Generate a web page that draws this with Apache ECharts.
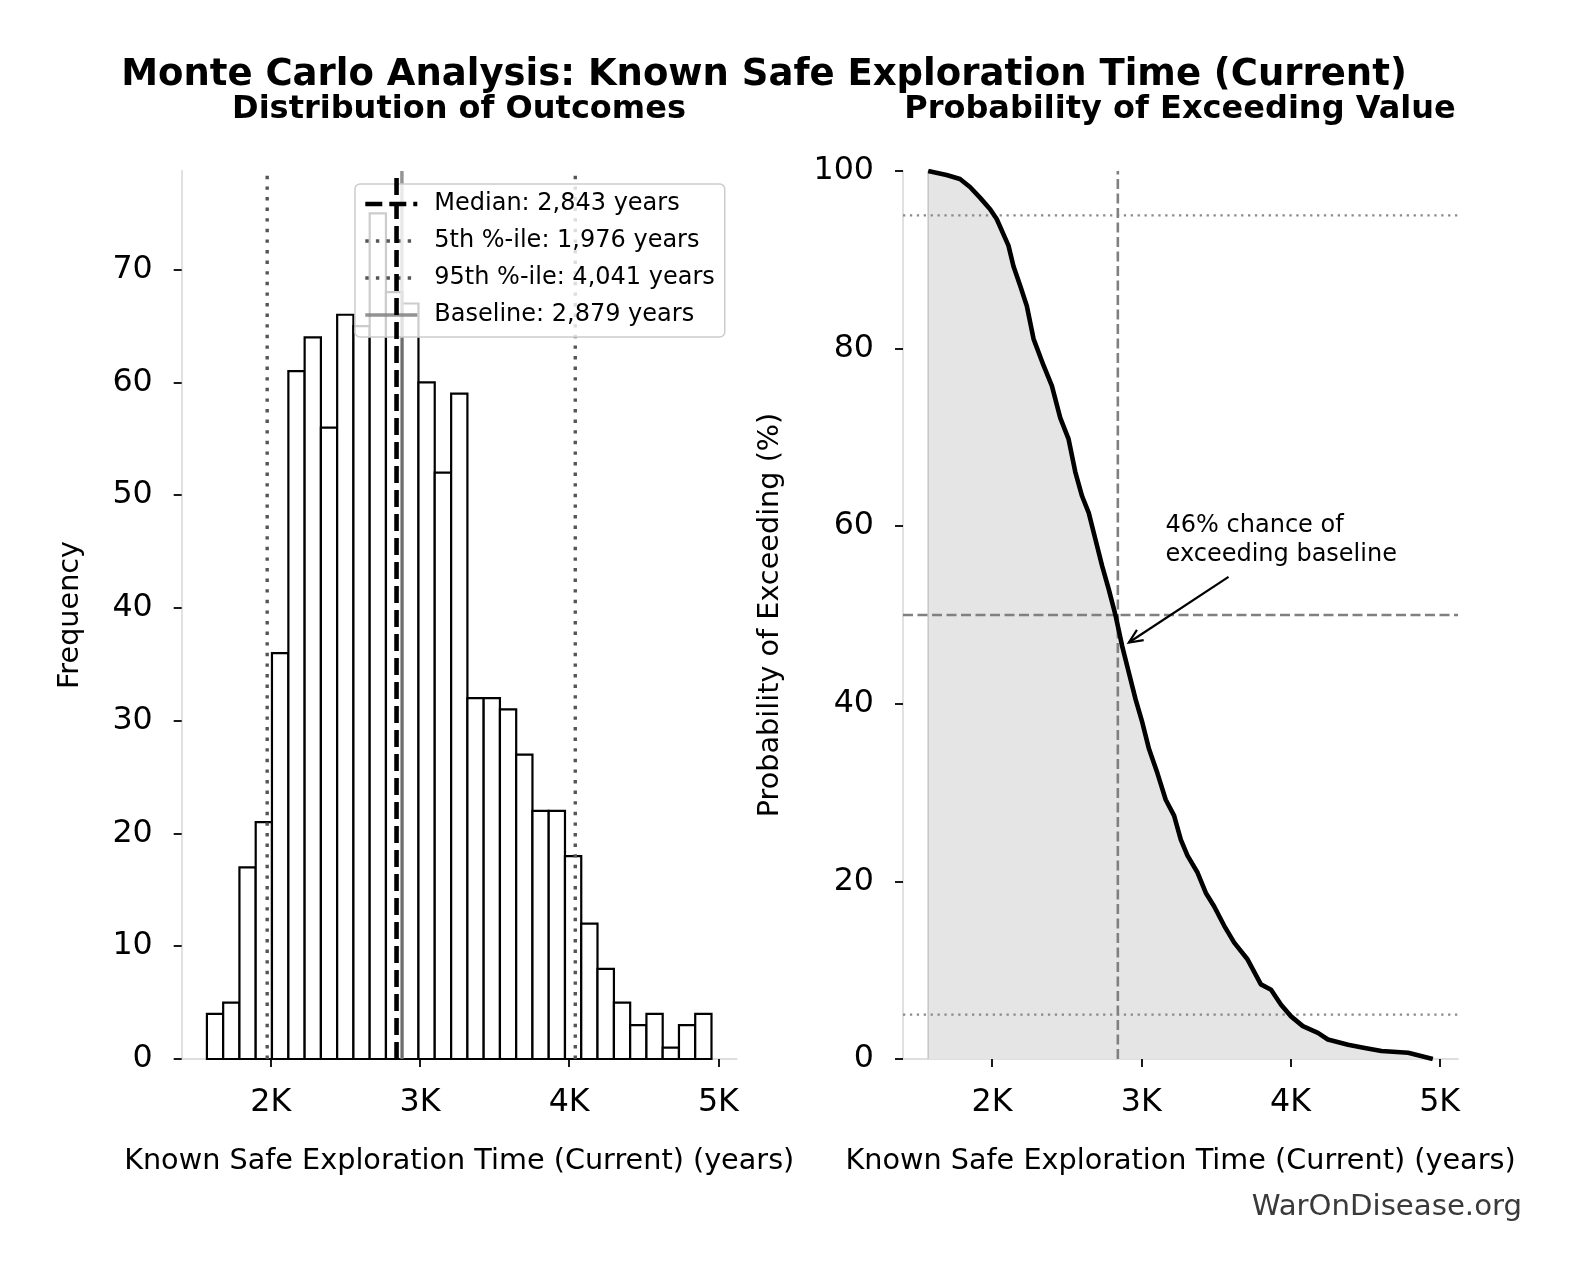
<!DOCTYPE html>
<html>
<head>
<meta charset="utf-8">
<script src="https://cdn.jsdelivr.net/npm/echarts@6/dist/echarts.min.js"></script>
<style>html,body{margin:0;padding:0;background:#fff;}#c{width:1581px;height:1280px;}</style>
</head>
<body>
<div id="c"></div>
<script>
// ---------- data ----------
const binEdges = [1572, 1681, 1790, 1899, 2008, 2118, 2227, 2336, 2445, 2554, 2663, 2772, 2881, 2990, 3099, 3209, 3318, 3427, 3536, 3645, 3754, 3863, 3972, 4081, 4190, 4300, 4409, 4518, 4627, 4736, 4845, 4954];
const binCounts = [4, 5, 17, 21, 36, 61, 64, 56, 66, 65, 75, 68, 67, 60, 52, 59, 32, 32, 31, 27, 22, 22, 18, 12, 8, 5, 3, 4, 1, 3, 4];

const survX = [1572, 1695, 1785, 1852, 1919, 1987, 2031, 2110, 2143, 2188, 2233, 2278, 2345, 2401, 2457, 2513, 2558, 2603, 2648, 2693, 2738, 2782, 2827, 2872, 2917, 2962, 3007, 3052, 3108, 3164, 3220, 3265, 3310, 3377, 3433, 3488, 3556, 3623, 3713, 3802, 3870, 3937, 4004, 4083, 4184, 4251, 4386, 4498, 4610, 4789, 4954];
const survY = [100, 99.55, 99.1, 98.2, 97.0, 95.7, 94.6, 91.6, 89.3, 87.1, 84.8, 81.1, 78.1, 75.8, 72.2, 69.8, 66.1, 63.4, 61.5, 58.5, 55.5, 52.9, 50.0, 46.5, 43.5, 40.5, 37.9, 34.9, 32.2, 29.2, 27.4, 24.7, 22.9, 21.0, 18.7, 17.2, 15.0, 13.1, 11.2, 8.4, 7.8, 6.1, 4.8, 3.7, 2.95, 2.2, 1.6, 1.25, 0.9, 0.7, 0];

const medianValue = 2843;
const p5Value = 1976;
const p95Value = 4041;
const baselineValue = 2879;

const legendNames = ['Median: 2,843 years', '5th %-ile: 1,976 years', '95th %-ile: 4,041 years', 'Baseline: 2,879 years'];
const xTicks = [2000, 3000, 4000, 5000];
const leftYTicks = [0, 10, 20, 30, 40, 50, 60, 70];
const rightYTicks = [0, 20, 40, 60, 80, 100];
const xMin = 1403, xMax = 5123;
const leftYMax = 78.75;
const rightYMax = 100;
const refLevels = [5, 50, 95];   // horizontal reference lines on the right panel

const annotText = '46% chance of\nexceeding baseline';
const annotTextPos = [3163, 58.4];
const annotArrowTail = [3585, 54.3];
const annotArrowTip = [2917, 46.9];

// ---------- chart ----------
const FONT = 'DejaVu Sans';
const chart = echarts.init(document.getElementById('c'), null, {renderer: 'canvas'});

const histData = binCounts.map((c, i) => [binEdges[i], binEdges[i + 1], c]);
const survData = survX.map((x, i) => [x, survY[i]]);

const TICK_FS = 31.7, NAME_FS = 28.7;

function axisX(gridIndex) {
  return {
    type: 'value', gridIndex, min: xMin, max: xMax,
    name: 'Known Safe Exploration Time (Current) (years)',
    nameLocation: 'middle', nameGap: 88,
    nameTextStyle: {fontFamily: FONT, fontSize: NAME_FS, color: '#000'},
    axisLine: {show: true, onZero: false, lineStyle: {color: '#dedede', width: 1.8}},
    axisTick: {show: true, length: 8, customValues: xTicks, lineStyle: {color: '#000', width: 1.8}},
    axisLabel: {customValues: xTicks, formatter: v => (v / 1000) + 'K', fontFamily: FONT, fontSize: TICK_FS, color: '#000', margin: 28},
    splitLine: {show: false}
  };
}

const lineStyles = [
  {color: '#000000', width: 4.6, type: [17, 7]},
  {color: '#555555', width: 3.4, type: [3.4, 7.2]},
  {color: '#555555', width: 3.4, type: [3.4, 7.2]},
  {color: 'rgba(128,128,128,0.85)', width: 3.4, type: 'solid'}
];

const vline = (name, x, ls, ymax, xi, yi, z) => ({
  name, type: 'line', xAxisIndex: xi, yAxisIndex: yi, data: [[x, 0], [x, ymax]],
  symbol: 'none', silent: true, z: z || 3,
  lineStyle: {color: ls.color, width: ls.width, type: ls.type, cap: 'butt'}, itemStyle: {color: ls.color}
});
const hline = (y, color, width, type) => ({
  type: 'line', xAxisIndex: 1, yAxisIndex: 1, data: [[xMin, y], [xMax, y]],
  symbol: 'none', silent: true, z: 3,
  lineStyle: {color, width, type, cap: 'butt'}
});

const option = {
  animation: false,
  backgroundColor: '#fff',
  textStyle: {fontFamily: FONT},
  title: [
    {text: 'Monte Carlo Analysis: Known Safe Exploration Time (Current)', left: 764, top: 57, textAlign: 'center', padding: 0,
     textStyle: {fontFamily: FONT, fontWeight: 'bold', fontSize: 37, color: '#000'}},
    {text: 'Distribution of Outcomes', left: 459, top: 94, textAlign: 'center', padding: 0,
     textStyle: {fontFamily: FONT, fontWeight: 'bold', fontSize: 32, color: '#000'}},
    {text: 'Probability of Exceeding Value', left: 1180, top: 94, textAlign: 'center', padding: 0,
     textStyle: {fontFamily: FONT, fontWeight: 'bold', fontSize: 32, color: '#000'}},
    {text: 'WarOnDisease.org', right: 59, top: 1193, padding: 0,
     textStyle: {fontFamily: FONT, fontWeight: 'normal', fontSize: 29.2, color: '#3a3a3a'}}
  ],
  legend: {
    left: 355, top: 184, orient: 'vertical',
    padding: [8, 10, 10, 8], itemGap: 13, itemWidth: 52, itemHeight: 22,
    backgroundColor: 'rgba(255,255,255,0.8)', borderColor: '#cccccc', borderWidth: 1.5, borderRadius: 5,
    textStyle: {fontFamily: FONT, fontSize: 24, color: '#000', padding: [0, 0, 0, 12]},
    selectedMode: false,
    itemStyle: {opacity: 0},
    data: legendNames.map((n, i) => ({
      name: n,
      itemStyle: {opacity: 0},
      lineStyle: {color: lineStyles[i].color, width: lineStyles[i].width, type: lineStyles[i].type, cap: 'butt'}
    }))
  },
  grid: [
    {left: 181.7, top: 171, width: 555, height: 888},
    {left: 903, top: 171, width: 555, height: 888}
  ],
  xAxis: [axisX(0), axisX(1)],
  yAxis: [
    {type: 'value', gridIndex: 0, min: 0, max: leftYMax,
     name: 'Frequency', nameLocation: 'middle', nameGap: 97,
     nameTextStyle: {fontFamily: FONT, fontSize: NAME_FS, color: '#000'},
     axisLine: {show: true, lineStyle: {color: '#dedede', width: 1.8}},
     axisTick: {show: true, length: 8, customValues: leftYTicks, lineStyle: {color: '#000', width: 1.8}},
     axisLabel: {customValues: leftYTicks, fontFamily: FONT, fontSize: TICK_FS, color: '#000', margin: 29},
     splitLine: {show: false}},
    {type: 'value', gridIndex: 1, min: 0, max: rightYMax,
     name: 'Probability of Exceeding (%)', nameLocation: 'middle', nameGap: 118,
     nameTextStyle: {fontFamily: FONT, fontSize: NAME_FS, color: '#000'},
     axisLine: {show: true, lineStyle: {color: '#dedede', width: 1.8}},
     axisTick: {show: true, length: 8, customValues: rightYTicks, lineStyle: {color: '#000', width: 1.8}},
     axisLabel: {customValues: rightYTicks, fontFamily: FONT, fontSize: TICK_FS, color: '#000', margin: 29},
     splitLine: {show: false}}
  ],
  series: [
    // histogram
    {
      type: 'custom', xAxisIndex: 0, yAxisIndex: 0, data: histData, silent: true, z: 2,
      renderItem: (params, api) => {
        const p0 = api.coord([api.value(0), 0]);
        const p1 = api.coord([api.value(1), api.value(2)]);
        return {type: 'rect', shape: {x: p0[0], y: p1[1], width: p1[0] - p0[0], height: p0[1] - p1[1]},
                style: {fill: '#ffffff', stroke: '#000000', lineWidth: 2.2}};
      }
    },
    vline(legendNames[0], medianValue, lineStyles[0], leftYMax, 0, 0, 4),
    vline(legendNames[1], p5Value, lineStyles[1], leftYMax, 0, 0),
    vline(legendNames[2], p95Value, lineStyles[2], leftYMax, 0, 0),
    vline(legendNames[3], baselineValue, lineStyles[3], leftYMax, 0, 0),
    // right: filled area
    {
      type: 'line', xAxisIndex: 1, yAxisIndex: 1, data: survData, symbol: 'none', silent: true, z: 1,
      lineStyle: {width: 0}, areaStyle: {color: '#e5e5e5', opacity: 1, origin: 'start'}
    },
    // fill left edge
    {type: 'line', xAxisIndex: 1, yAxisIndex: 1, data: [[survX[0], 0], [survX[0], survY[0]]], symbol: 'none', silent: true, z: 2,
     lineStyle: {color: '#c8c8c8', width: 1.6}},
    // reference lines
    hline(refLevels[1], '#808080', 2.6, [10, 4.5]),
    hline(refLevels[2], '#8a8a8a', 2.3, [2.3, 4.6]),
    hline(refLevels[0], '#8a8a8a', 2.3, [2.3, 4.6]),
    vline('medianR', medianValue, {color: '#808080', width: 2.6, type: [10, 4.5]}, rightYMax, 1, 1, 3),
    // curve
    {
      type: 'line', xAxisIndex: 1, yAxisIndex: 1, data: survData, symbol: 'none', silent: true, z: 5,
      lineStyle: {color: '#000000', width: 4.6, join: 'round'}
    },
    // annotation
    {
      type: 'custom', xAxisIndex: 1, yAxisIndex: 1, silent: true, z: 6,
      data: [[annotArrowTail[0], annotArrowTail[1], annotArrowTip[0], annotArrowTip[1], annotTextPos[0], annotTextPos[1]]],
      renderItem: (params, api) => {
        const a = api.coord([api.value(0), api.value(1)]);
        const b = api.coord([api.value(2), api.value(3)]);
        const t = api.coord([api.value(4), api.value(5)]);
        const ang = Math.atan2(b[1] - a[1], b[0] - a[0]);
        const L = 15, w = 0.42;
        const h1 = [b[0] - L * Math.cos(ang - w), b[1] - L * Math.sin(ang - w)];
        const h2 = [b[0] - L * Math.cos(ang + w), b[1] - L * Math.sin(ang + w)];
        return {type: 'group', children: [
          {type: 'line', shape: {x1: a[0], y1: a[1], x2: b[0], y2: b[1]}, style: {stroke: '#000', lineWidth: 2.2}},
          {type: 'polyline', shape: {points: [h1, b, h2]}, style: {stroke: '#000', lineWidth: 2.2, fill: null}},
          {type: 'text', x: t[0], y: t[1], style: {text: annotText, fontFamily: FONT, fontSize: 24, lineHeight: 29,
            fill: '#000', align: 'left', verticalAlign: 'middle'}}
        ]};
      }
    }
  ]
};
chart.setOption(option);
</script>
</body>
</html>
